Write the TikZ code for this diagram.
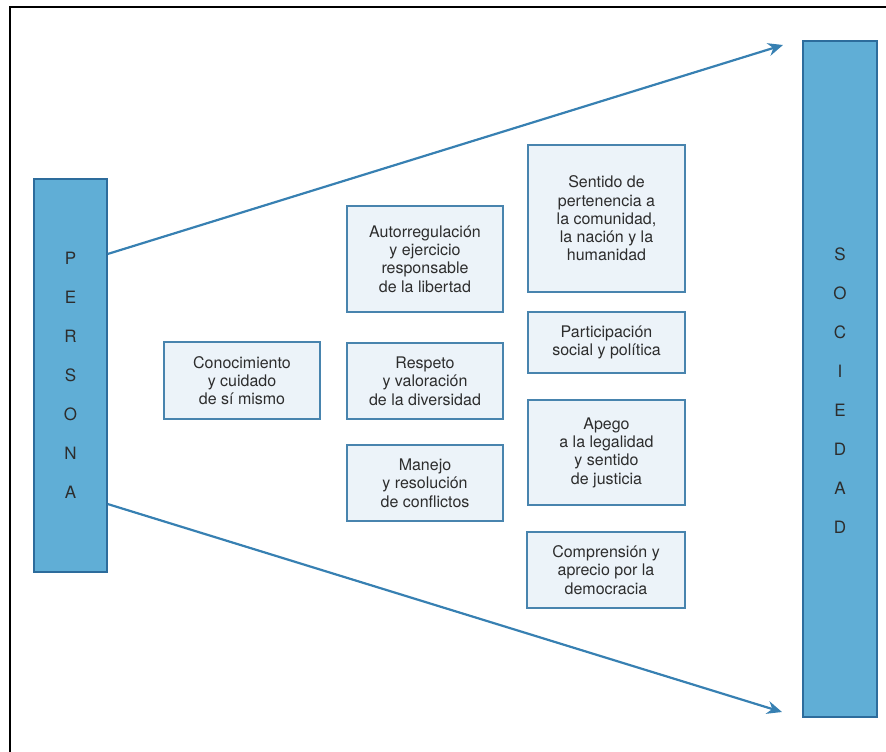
\documentclass[tikz,border=0pt]{standalone}
\usepackage{fontspec}
\setmainfont{TeX Gyre Heros}
\usepackage{tikz}
\usetikzlibrary{arrows.meta}

\definecolor{pilarblue}{RGB}{96,174,214}
\definecolor{pilaredge}{RGB}{45,108,156}
\definecolor{boxfill}{RGB}{236,243,249}
\definecolor{boxedge}{RGB}{72,132,174}
\definecolor{arrowblue}{RGB}{55,128,178}
\definecolor{inkgray}{RGB}{45,45,45}

\begin{document}
\begin{tikzpicture}[x=1pt, y=-1pt,
        pilar/.style={draw=pilaredge, line width=1.2pt, fill=pilarblue, inner sep=0pt},
        letras/.style={inner sep=0pt, text=inkgray, align=center, font=\fontsize{17}{39}\selectfont},
        concepto/.style={draw=boxedge, line width=1.6pt, fill=boxfill, inner sep=0pt,
            minimum width=156pt, text=inkgray, align=center, font=\fontsize{16}{18.3}\selectfont},
        flecha/.style={draw=arrowblue, line width=2.2pt, -{Stealth[length=15pt,width=13pt]}}]

    \useasboundingbox (0,0) rectangle (886,752);
    \draw[line width=2.5pt] (10,752) |- (886,7);

    % the two sides
    \node[pilar, minimum width=73pt, minimum height=393pt] (persona) at (70.5,375.5) {};
    \node[letras] (personatexto) at (persona.center) {P\\E\\R\\S\\O\\N\\A};
    \node[pilar, minimum width=74pt, minimum height=676pt] (sociedad) at (840,379) {};
    \node[letras] (sociedadtexto) at ([yshift=-12pt]sociedad.center) {S\\O\\C\\I\\E\\D\\A\\D};

    % left and middle columns
    \node[concepto, minimum height=77pt] (conocimiento) at (242,380.5) {Conocimiento\\y cuidado\\de sí mismo};
    \node[concepto, minimum height=106pt] (autorregulacion) at (425,259) {Autorregulación\\y ejercicio\\responsable\\de la libertad};
    \node[concepto, minimum height=76pt] (respeto) at (425,381) {Respeto\\y valoración\\de la diversidad};
    \node[concepto, minimum height=76pt] (manejo) at (425,483) {Manejo\\y resolución\\de conflictos};

    % right column
    \node[concepto, minimum width=157pt, minimum height=147pt] (pertenencia) at (606.5,218.5) {Sentido de\\pertenencia a\\la comunidad,\\la nación y la\\humanidad};
    \node[concepto, minimum width=157pt, minimum height=61pt] (participacion) at (606.5,342.5) {Participación\\social y política};
    \node[concepto, minimum width=157pt, minimum height=105pt] (apego) at (606.5,452.5) {Apego\\a la legalidad\\y sentido\\de justicia};
    \node[concepto, minimum width=158pt, minimum height=76pt] (comprension) at (606,570) {Comprensión y\\aprecio por la\\democracia};

    \coordinate (tiparriba) at (783,45);
    \coordinate (tipabajo) at (782,712);
    \draw[flecha] ([yshift=121.5pt]persona.east) -- (tiparriba);
    \draw[flecha] ([yshift=-128.5pt]persona.east) -- (tipabajo);

\end{tikzpicture}
\end{document}
